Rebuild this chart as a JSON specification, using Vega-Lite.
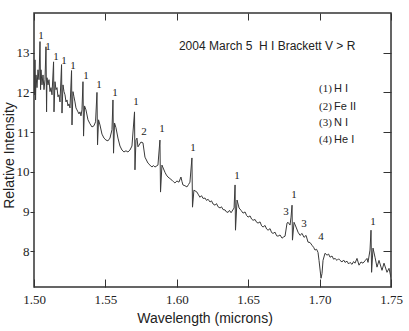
{
  "$schema": "https://vega.github.io/schema/vega-lite/v6.json",
  "width": 357,
  "height": 274,
  "autosize": {"type": "none"},
  "padding": {"left": 34, "top": 13, "right": 18, "bottom": 44},
  "background": "white",
  "config": {
    "view": {"stroke": "#333", "strokeWidth": 1.5},
    "axis": {"grid": false, "domain": false, "tickColor": "#333", "tickWidth": 1}
  },
  "resolve": {"axis": {"x": "independent", "y": "independent"}},
  "layer": [
    {
      "data": {"values": [
        {"wavelength":1.5000,"intensity":12.57},{"wavelength":1.5004,"intensity":11.94},{"wavelength":1.5007,"intensity":12.82},{"wavelength":1.5011,"intensity":11.81},
        {"wavelength":1.5014,"intensity":12.44},{"wavelength":1.5021,"intensity":12.12},{"wavelength":1.5028,"intensity":12.57},{"wavelength":1.5035,"intensity":12.32},
        {"wavelength":1.5042,"intensity":13.28},{"wavelength":1.5046,"intensity":12.07},{"wavelength":1.5049,"intensity":12.57},{"wavelength":1.5056,"intensity":12.19},
        {"wavelength":1.5063,"intensity":12.44},{"wavelength":1.5070,"intensity":12.07},{"wavelength":1.5077,"intensity":12.32},{"wavelength":1.5084,"intensity":13.15},
        {"wavelength":1.5088,"intensity":11.51},{"wavelength":1.5091,"intensity":12.37},{"wavelength":1.5098,"intensity":12.19},{"wavelength":1.5105,"intensity":12.32},
        {"wavelength":1.5112,"intensity":12.02},{"wavelength":1.5119,"intensity":12.12},{"wavelength":1.5126,"intensity":11.94},{"wavelength":1.5137,"intensity":12.77},
        {"wavelength":1.5140,"intensity":11.51},{"wavelength":1.5147,"intensity":12.27},{"wavelength":1.5154,"intensity":12.07},{"wavelength":1.5161,"intensity":12.12},
        {"wavelength":1.5168,"intensity":11.89},{"wavelength":1.5175,"intensity":11.94},{"wavelength":1.5182,"intensity":11.76},{"wavelength":1.5193,"intensity":12.70},
        {"wavelength":1.5196,"intensity":11.48},{"wavelength":1.5203,"intensity":12.19},{"wavelength":1.5210,"intensity":12.02},{"wavelength":1.5217,"intensity":11.94},
        {"wavelength":1.5224,"intensity":11.76},{"wavelength":1.5231,"intensity":11.81},{"wavelength":1.5238,"intensity":11.66},{"wavelength":1.5245,"intensity":11.71},
        {"wavelength":1.5252,"intensity":11.61},{"wavelength":1.5263,"intensity":12.55},{"wavelength":1.5266,"intensity":11.18},{"wavelength":1.5273,"intensity":12.02},
        {"wavelength":1.5280,"intensity":11.89},{"wavelength":1.5287,"intensity":11.76},{"wavelength":1.5294,"intensity":11.61},{"wavelength":1.5301,"intensity":11.56},
        {"wavelength":1.5308,"intensity":11.51},{"wavelength":1.5315,"intensity":11.46},{"wavelength":1.5322,"intensity":11.51},{"wavelength":1.5329,"intensity":11.41},
        {"wavelength":1.5336,"intensity":11.56},{"wavelength":1.5343,"intensity":12.27},{"wavelength":1.5347,"intensity":10.90},{"wavelength":1.5354,"intensity":11.66},
        {"wavelength":1.5364,"intensity":11.56},{"wavelength":1.5378,"intensity":11.31},{"wavelength":1.5392,"intensity":11.21},{"wavelength":1.5406,"intensity":11.13},
        {"wavelength":1.5420,"intensity":11.16},{"wavelength":1.5431,"intensity":11.26},{"wavelength":1.5441,"intensity":12.00},{"wavelength":1.5445,"intensity":10.68},
        {"wavelength":1.5452,"intensity":11.31},{"wavelength":1.5462,"intensity":11.18},{"wavelength":1.5476,"intensity":10.95},{"wavelength":1.5490,"intensity":10.85},
        {"wavelength":1.5504,"intensity":10.80},{"wavelength":1.5518,"intensity":10.78},{"wavelength":1.5532,"intensity":10.85},{"wavelength":1.5546,"intensity":11.06},
        {"wavelength":1.5553,"intensity":11.81},{"wavelength":1.5557,"intensity":10.47},{"wavelength":1.5564,"intensity":11.23},{"wavelength":1.5574,"intensity":11.11},
        {"wavelength":1.5588,"intensity":10.85},{"wavelength":1.5602,"intensity":10.65},{"wavelength":1.5616,"intensity":10.55},{"wavelength":1.5630,"intensity":10.50},
        {"wavelength":1.5644,"intensity":10.53},{"wavelength":1.5658,"intensity":10.50},{"wavelength":1.5672,"intensity":10.55},{"wavelength":1.5686,"intensity":10.65},
        {"wavelength":1.5704,"intensity":11.51},{"wavelength":1.5707,"intensity":10.05},{"wavelength":1.5714,"intensity":10.80},{"wavelength":1.5721,"intensity":10.85},
        {"wavelength":1.5728,"intensity":10.63},{"wavelength":1.5749,"intensity":10.75},{"wavelength":1.5763,"intensity":10.73},{"wavelength":1.5777,"intensity":10.37},
        {"wavelength":1.5798,"intensity":10.22},{"wavelength":1.5812,"intensity":10.17},{"wavelength":1.5826,"intensity":10.12},{"wavelength":1.5836,"intensity":10.16},{"wavelength":1.5847,"intensity":10.12},{"wavelength":1.5868,"intensity":10.17},
        {"wavelength":1.5882,"intensity":10.80},{"wavelength":1.5886,"intensity":9.49},{"wavelength":1.5896,"intensity":10.17},
        {"wavelength":1.5917,"intensity":9.99},{"wavelength":1.5927,"intensity":9.92},{"wavelength":1.5938,"intensity":9.87},{"wavelength":1.5952,"intensity":9.83},
        {"wavelength":1.5966,"intensity":9.79},{"wavelength":1.5977,"intensity":9.75},{"wavelength":1.5987,"intensity":9.72},{"wavelength":1.6001,"intensity":9.77},
        {"wavelength":1.6015,"intensity":9.74},{"wavelength":1.6029,"intensity":9.87},{"wavelength":1.6036,"intensity":9.76},{"wavelength":1.6043,"intensity":9.67},
        {"wavelength":1.6057,"intensity":9.65},{"wavelength":1.6071,"intensity":9.62},{"wavelength":1.6082,"intensity":9.68},{"wavelength":1.6092,"intensity":9.74},
        {"wavelength":1.6106,"intensity":10.35},{"wavelength":1.6110,"intensity":9.11},{"wavelength":1.6120,"intensity":9.54},
        {"wavelength":1.6141,"intensity":9.49},{"wavelength":1.6152,"intensity":9.42},{"wavelength":1.6162,"intensity":9.36},{"wavelength":1.6173,"intensity":9.40},
        {"wavelength":1.6184,"intensity":9.33},{"wavelength":1.6198,"intensity":9.34},{"wavelength":1.6208,"intensity":9.28},{"wavelength":1.6219,"intensity":9.31},
        {"wavelength":1.6233,"intensity":9.24},{"wavelength":1.6243,"intensity":9.27},{"wavelength":1.6254,"intensity":9.19},{"wavelength":1.6268,"intensity":9.16},
        {"wavelength":1.6278,"intensity":9.20},{"wavelength":1.6289,"intensity":9.12},{"wavelength":1.6303,"intensity":9.09},{"wavelength":1.6313,"intensity":9.12},
        {"wavelength":1.6324,"intensity":9.05},{"wavelength":1.6338,"intensity":9.04},{"wavelength":1.6348,"intensity":8.99},{"wavelength":1.6359,"intensity":8.98},
        {"wavelength":1.6369,"intensity":9.03},{"wavelength":1.6380,"intensity":8.97},{"wavelength":1.6387,"intensity":9.01},{"wavelength":1.6401,"intensity":9.09},
        {"wavelength":1.6408,"intensity":9.67},{"wavelength":1.6411,"intensity":8.53},{"wavelength":1.6422,"intensity":9.29},
        {"wavelength":1.6436,"intensity":9.09},{"wavelength":1.6450,"intensity":9.03},{"wavelength":1.6464,"intensity":8.96},{"wavelength":1.6478,"intensity":8.99},
        {"wavelength":1.6489,"intensity":8.90},{"wavelength":1.6499,"intensity":8.86},{"wavelength":1.6513,"intensity":8.89},{"wavelength":1.6524,"intensity":8.81},
        {"wavelength":1.6534,"intensity":8.78},{"wavelength":1.6548,"intensity":8.80},{"wavelength":1.6559,"intensity":8.73},{"wavelength":1.6569,"intensity":8.71},
        {"wavelength":1.6583,"intensity":8.74},{"wavelength":1.6594,"intensity":8.64},{"wavelength":1.6604,"intensity":8.61},{"wavelength":1.6618,"intensity":8.65},
        {"wavelength":1.6629,"intensity":8.56},{"wavelength":1.6639,"intensity":8.53},{"wavelength":1.6653,"intensity":8.57},{"wavelength":1.6664,"intensity":8.47},
        {"wavelength":1.6674,"intensity":8.45},{"wavelength":1.6688,"intensity":8.48},{"wavelength":1.6699,"intensity":8.39},{"wavelength":1.6709,"intensity":8.38},
        {"wavelength":1.6723,"intensity":8.41},{"wavelength":1.6737,"intensity":8.33},{"wavelength":1.6748,"intensity":8.36},{"wavelength":1.6758,"intensity":8.38},
        {"wavelength":1.6772,"intensity":8.71},{"wavelength":1.6779,"intensity":8.73},{"wavelength":1.6793,"intensity":8.66},{"wavelength":1.6800,"intensity":8.86},
        {"wavelength":1.6807,"intensity":9.16},{"wavelength":1.6810,"intensity":8.28},{"wavelength":1.6821,"intensity":8.73},{"wavelength":1.6835,"intensity":8.61},
        {"wavelength":1.6849,"intensity":8.48},{"wavelength":1.6863,"intensity":8.40},{"wavelength":1.6877,"intensity":8.45},{"wavelength":1.6891,"intensity":8.35},
        {"wavelength":1.6905,"intensity":8.40},{"wavelength":1.6919,"intensity":8.23},{"wavelength":1.6933,"intensity":8.22},{"wavelength":1.6947,"intensity":8.15},
        {"wavelength":1.6958,"intensity":8.10},{"wavelength":1.6968,"intensity":8.03},{"wavelength":1.6979,"intensity":8.05},{"wavelength":1.6989,"intensity":7.97},
        {"wavelength":1.6996,"intensity":7.77},{"wavelength":1.7010,"intensity":7.32},{"wavelength":1.7017,"intensity":7.44},{"wavelength":1.7024,"intensity":7.77},
        {"wavelength":1.7038,"intensity":7.95},{"wavelength":1.7052,"intensity":7.90},{"wavelength":1.7063,"intensity":7.93},{"wavelength":1.7073,"intensity":7.85},
        {"wavelength":1.7087,"intensity":7.88},{"wavelength":1.7098,"intensity":7.80},{"wavelength":1.7108,"intensity":7.82},{"wavelength":1.7122,"intensity":7.77},
        {"wavelength":1.7133,"intensity":7.81},{"wavelength":1.7143,"intensity":7.77},{"wavelength":1.7157,"intensity":7.73},{"wavelength":1.7168,"intensity":7.78},
        {"wavelength":1.7178,"intensity":7.72},{"wavelength":1.7192,"intensity":7.75},{"wavelength":1.7203,"intensity":7.68},{"wavelength":1.7213,"intensity":7.72},
        {"wavelength":1.7227,"intensity":7.67},{"wavelength":1.7238,"intensity":7.74},{"wavelength":1.7248,"intensity":7.70},{"wavelength":1.7262,"intensity":7.82},
        {"wavelength":1.7276,"intensity":7.65},{"wavelength":1.7290,"intensity":7.73},{"wavelength":1.7304,"intensity":7.70},{"wavelength":1.7318,"intensity":7.76},
        {"wavelength":1.7332,"intensity":7.82},{"wavelength":1.7339,"intensity":7.72},{"wavelength":1.7353,"intensity":8.03},{"wavelength":1.7360,"intensity":8.53},
        {"wavelength":1.7364,"intensity":7.47},{"wavelength":1.7374,"intensity":8.08},{"wavelength":1.7388,"intensity":7.85},{"wavelength":1.7402,"intensity":7.60},
        {"wavelength":1.7416,"intensity":7.77},{"wavelength":1.7437,"intensity":7.52},{"wavelength":1.7451,"intensity":7.70},{"wavelength":1.7472,"intensity":7.47},
        {"wavelength":1.7486,"intensity":7.57},{"wavelength":1.7500,"intensity":7.34}
      ]},
      "mark": {"type": "line", "stroke": "#3a3a3a", "strokeWidth": 1, "clip": true},
      "encoding": {
        "x": {"field": "wavelength", "type": "quantitative", "scale": {"domain": [1.5, 1.75], "nice": false, "zero": false},
          "axis": {"orient": "bottom", "values": [1.5, 1.55, 1.6, 1.65, 1.7, 1.75], "format": ".2f", "tickSize": -8, "labelPadding": 14,
            "labelFont": "Liberation Serif", "labelFontSize": 13, "labelColor": "#222", "labelFlush": false, "labelOverlap": false,
            "title": "Wavelength (microns)", "titleFont": "Liberation Sans", "titleFontSize": 14, "titleFontWeight": "normal", "titleColor": "#222",
            "titleX": 170.5, "titleY": 35, "titleBaseline": "alphabetic", "titleAlign": "center"}},
        "y": {"field": "intensity", "type": "quantitative", "scale": {"domain": [7.1, 14.0], "nice": false, "zero": false},
          "axis": {"orient": "left", "values": [8, 9, 10, 11, 12, 13], "tickSize": 4, "labelPadding": 1,
            "labelFont": "Liberation Serif", "labelFontSize": 13, "labelColor": "#222", "labelFlush": false, "labelOverlap": false,
            "title": "Relative Intensity", "titleFont": "Liberation Sans", "titleFontSize": 14, "titleFontWeight": "normal", "titleColor": "#222",
            "titleX": -21, "titleY": 142, "titleAngle": -90, "titleBaseline": "alphabetic", "titleAlign": "center"}}
      }
    },
    {
      "data": {"values": [
        {"wavelength":1.5049,"intensity":13.43,"label":"1"},{"wavelength":1.5098,"intensity":13.15,"label":"1"},
        {"wavelength":1.5154,"intensity":12.90,"label":"1"},{"wavelength":1.5210,"intensity":12.80,"label":"1"},
        {"wavelength":1.5273,"intensity":12.67,"label":"1"},{"wavelength":1.5364,"intensity":12.42,"label":"1"},
        {"wavelength":1.5455,"intensity":12.19,"label":"1"},{"wavelength":1.5567,"intensity":11.99,"label":"1"},
        {"wavelength":1.5714,"intensity":11.76,"label":"1"},{"wavelength":1.5770,"intensity":11.01,"label":"2"},
        {"wavelength":1.5896,"intensity":11.08,"label":"1"},{"wavelength":1.6113,"intensity":10.60,"label":"1"},
        {"wavelength":1.6422,"intensity":9.89,"label":"1"},{"wavelength":1.6821,"intensity":9.41,"label":"1"},
        {"wavelength":1.6765,"intensity":8.98,"label":"3"},{"wavelength":1.6891,"intensity":8.68,"label":"3"},
        {"wavelength":1.7010,"intensity":8.35,"label":"4"},{"wavelength":1.7374,"intensity":8.73,"label":"1"}
      ]},
      "mark": {"type": "text", "font": "Liberation Serif", "fontSize": 11, "fill": "#222", "baseline": "middle", "align": "center"},
      "encoding": {
        "x": {"field": "wavelength", "type": "quantitative", "scale": {"domain": [1.5, 1.75], "nice": false, "zero": false},
          "axis": {"orient": "top", "values": [1.5, 1.55, 1.6, 1.65, 1.7, 1.75], "tickSize": -7, "labels": false, "title": null}},
        "y": {"field": "intensity", "type": "quantitative", "scale": {"domain": [7.1, 14.0], "nice": false, "zero": false},
          "axis": {"orient": "right", "values": [8, 9, 10, 11, 12, 13], "tickSize": -8, "labels": false, "title": null}},
        "text": {"field": "label"}
      }
    },
    {
      "data": {"values": [
        {"wavelength":1.6015,"intensity":13.16,"text":"2004 March 5\u00a0 H I Brackett V > R"}
      ]},
      "mark": {"type": "text", "font": "Liberation Sans", "fontSize": 12, "fill": "#222", "baseline": "middle", "align": "left"},
      "encoding": {
        "x": {"field": "wavelength", "type": "quantitative", "scale": {"domain": [1.5, 1.75], "nice": false, "zero": false}, "axis": null},
        "y": {"field": "intensity", "type": "quantitative", "scale": {"domain": [7.1, 14.0], "nice": false, "zero": false}, "axis": null},
        "text": {"field": "text"}
      }
    },
    {
      "data": {"values": [
        {"wavelength":1.6996,"intensity":12.08,"text":"(1)"},{"wavelength":1.6996,"intensity":11.64,"text":"(2)"},
        {"wavelength":1.6996,"intensity":11.22,"text":"(3)"},{"wavelength":1.6996,"intensity":10.80,"text":"(4)"}
      ]},
      "mark": {"type": "text", "font": "Liberation Serif", "fontSize": 11, "fill": "#222", "baseline": "middle", "align": "left"},
      "encoding": {
        "x": {"field": "wavelength", "type": "quantitative", "scale": {"domain": [1.5, 1.75], "nice": false, "zero": false}, "axis": null},
        "y": {"field": "intensity", "type": "quantitative", "scale": {"domain": [7.1, 14.0], "nice": false, "zero": false}, "axis": null},
        "text": {"field": "text"}
      }
    },
    {
      "data": {"values": [
        {"wavelength":1.7101,"intensity":12.08,"text":"H I"},{"wavelength":1.7101,"intensity":11.64,"text":"Fe II"},
        {"wavelength":1.7101,"intensity":11.22,"text":"N I"},{"wavelength":1.7101,"intensity":10.80,"text":"He I"}
      ]},
      "mark": {"type": "text", "font": "Liberation Sans", "fontSize": 11, "fill": "#222", "baseline": "middle", "align": "left"},
      "encoding": {
        "x": {"field": "wavelength", "type": "quantitative", "scale": {"domain": [1.5, 1.75], "nice": false, "zero": false}, "axis": null},
        "y": {"field": "intensity", "type": "quantitative", "scale": {"domain": [7.1, 14.0], "nice": false, "zero": false}, "axis": null},
        "text": {"field": "text"}
      }
    }
  ]
}
